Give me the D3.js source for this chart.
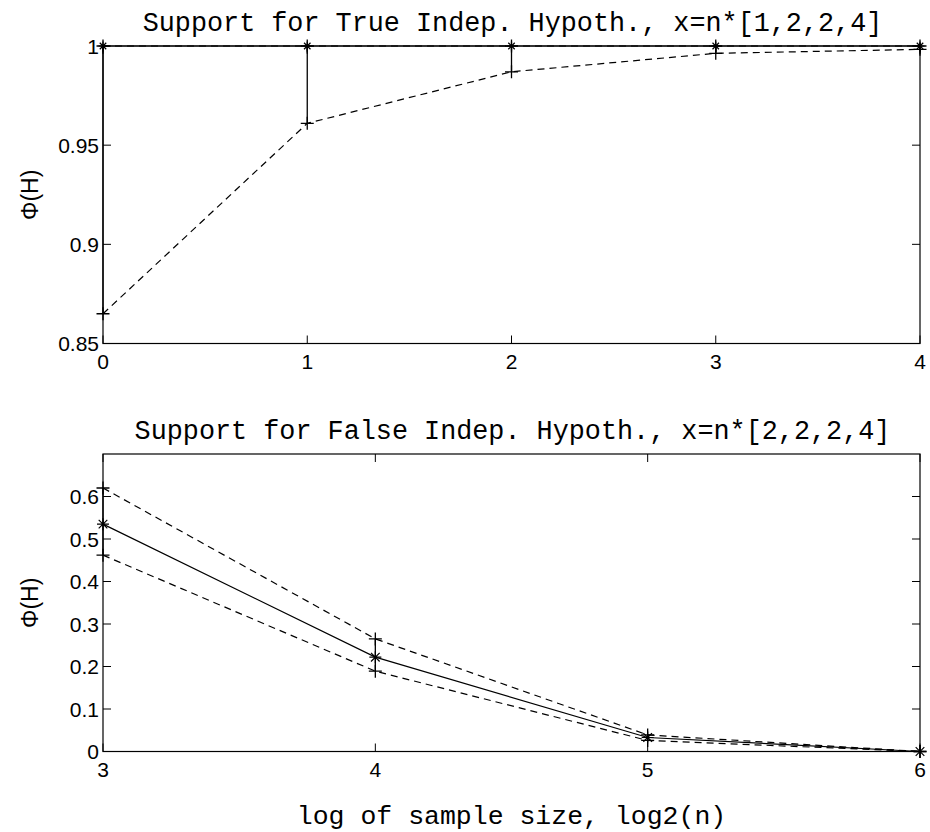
<!DOCTYPE html>
<html>
<head>
<meta charset="utf-8">
<script src="https://cdn.jsdelivr.net/npm/d3@7"></script>
<style>
  body { margin: 0; background: #fff; }
  svg text { fill: #000; }
</style>
</head>
<body>
<div id="chart"></div>
<script>
// values
const topX = [0, 1, 2, 3, 4];
const topMean = [1, 1, 1, 1, 1];
const topUpper = [1, 1, 1, 1, 1];
const topLower = [0.865, 0.961, 0.987, 0.9963, 0.9983];
const topYTicks = [0.85, 0.9, 0.95, 1];

const botX = [3, 4, 5, 6];
const botMean = [0.535, 0.222, 0.033, 0];
const botUpper = [0.62, 0.265, 0.039, 0];
const botLower = [0.462, 0.189, 0.026, 0];
const botYTicks = [0, 0.1, 0.2, 0.3, 0.4, 0.5, 0.6];

const titles = ["Support for True Indep. Hypoth., x=n*[1,2,2,4]",
                "Support for False Indep. Hypoth., x=n*[2,2,2,4]"];
const xLabel = "log of sample size, log2(n)";
const yLabel = "\u03A6(H)";

const width = 930, height = 832;
const left = 103, right = 920;
const ph = 297.5;

const svg = d3.select("#chart").append("svg")
    .attr("width", width)
    .attr("height", height);

function drawPanel(top, xs, mean, upper, lower, xDomain, yDomain, yTicks, yFmt, title, star) {
    const x = d3.scaleLinear().domain(xDomain).range([left, right]);
    const y = d3.scaleLinear().domain(yDomain).range([top + ph, top]);
    const g = svg.append("g");
    const tl = 8;

    // box
    g.append("rect")
        .attr("x", left).attr("y", top)
        .attr("width", right - left).attr("height", ph)
        .attr("fill", "none").attr("stroke", "#000").attr("stroke-width", 1.2);

    const xTicks = d3.range(xDomain[0], xDomain[1] + 1);
    // inward ticks, all four sides
    xTicks.forEach(t => {
        g.append("line").attr("x1", x(t)).attr("x2", x(t))
            .attr("y1", top + ph).attr("y2", top + ph - tl).attr("stroke", "#000");
        g.append("line").attr("x1", x(t)).attr("x2", x(t))
            .attr("y1", top).attr("y2", top + tl).attr("stroke", "#000");
        g.append("text").attr("x", x(t)).attr("y", top + ph + 25)
            .attr("text-anchor", "middle")
            .style("font-family", "'Liberation Sans', Arial, sans-serif")
            .style("font-size", "21px")
            .text(t);
    });
    yTicks.forEach(t => {
        g.append("line").attr("x1", left).attr("x2", left + tl)
            .attr("y1", y(t)).attr("y2", y(t)).attr("stroke", "#000");
        g.append("line").attr("x1", right).attr("x2", right - tl)
            .attr("y1", y(t)).attr("y2", y(t)).attr("stroke", "#000");
        g.append("text").attr("x", left - 4).attr("y", y(t))
            .attr("text-anchor", "end").attr("dy", "0.36em")
            .style("font-family", "'Liberation Sans', Arial, sans-serif")
            .style("font-size", "21px")
            .text(yFmt(t));
    });

    const line = d3.line().x(d => x(d[0])).y(d => y(d[1]));
    const zip = arr => xs.map((v, i) => [v, arr[i]]);

    // error bars
    xs.forEach((v, i) => {
        g.append("line").attr("x1", x(v)).attr("x2", x(v))
            .attr("y1", y(upper[i])).attr("y2", y(lower[i]))
            .attr("stroke", "#000").attr("stroke-width", 1.3);
    });

    [upper, lower].forEach(arr => {
        g.append("path").datum(zip(arr)).attr("d", line)
            .attr("fill", "none").attr("stroke", "#000")
            .attr("stroke-width", 1.2).attr("stroke-dasharray", "7,5");
    });
    g.append("path").datum(zip(mean)).attr("d", line)
        .attr("fill", "none").attr("stroke", "#000").attr("stroke-width", 1.2);

    // + markers on bounds
    const p = 6.5;
    [upper, lower].forEach(arr => {
        xs.forEach((v, i) => {
            const cx = x(v), cy = y(arr[i]);
            g.append("path")
                .attr("d", `M${cx - p},${cy}H${cx + p}M${cx},${cy - p}V${cy + p}`)
                .attr("stroke", "#000").attr("stroke-width", 1.3);
        });
    });
    // * markers on mean
    xs.forEach((v, i) => {
        const cx = x(v), cy = y(mean[i]);
        const s = star, d = star * 0.72;
        g.append("path")
            .attr("d", `M${cx - s},${cy}H${cx + s}M${cx},${cy - s}V${cy + s}` +
                `M${cx - d},${cy - d}L${cx + d},${cy + d}M${cx - d},${cy + d}L${cx + d},${cy - d}`)
            .attr("stroke", "#000").attr("stroke-width", 1.2);
    });

    // title
    g.append("text").attr("x", (left + right) / 2 + 1).attr("y", top - 15)
        .attr("text-anchor", "middle")
        .style("font-family", "'Liberation Mono', 'Courier New', monospace")
        .style("font-size", "26.8px")
        .text(title);

    // y label
    g.append("text")
        .attr("transform", `translate(38,${top + ph / 2}) rotate(-90)`)
        .attr("text-anchor", "middle")
        .style("font-family", "'Liberation Sans', Arial, sans-serif")
        .style("font-size", "23px")
        .text(yLabel);
}

drawPanel(46, topX, topMean, topUpper, topLower, [0, 4], [0.85, 1], topYTicks,
    d => d === 1 ? "1" : String(+d.toFixed(2)), titles[0], 4.5);
drawPanel(454, botX, botMean, botUpper, botLower, [3, 6], [0, 0.7], botYTicks,
    d => d === 0 ? "0" : d.toFixed(1), titles[1], 6);

svg.append("text").attr("x", (left + right) / 2).attr("y", 824)
    .attr("text-anchor", "middle")
    .style("font-family", "'Liberation Mono', 'Courier New', monospace")
    .style("font-size", "26.5px")
    .text(xLabel);
</script>
</body>
</html>
